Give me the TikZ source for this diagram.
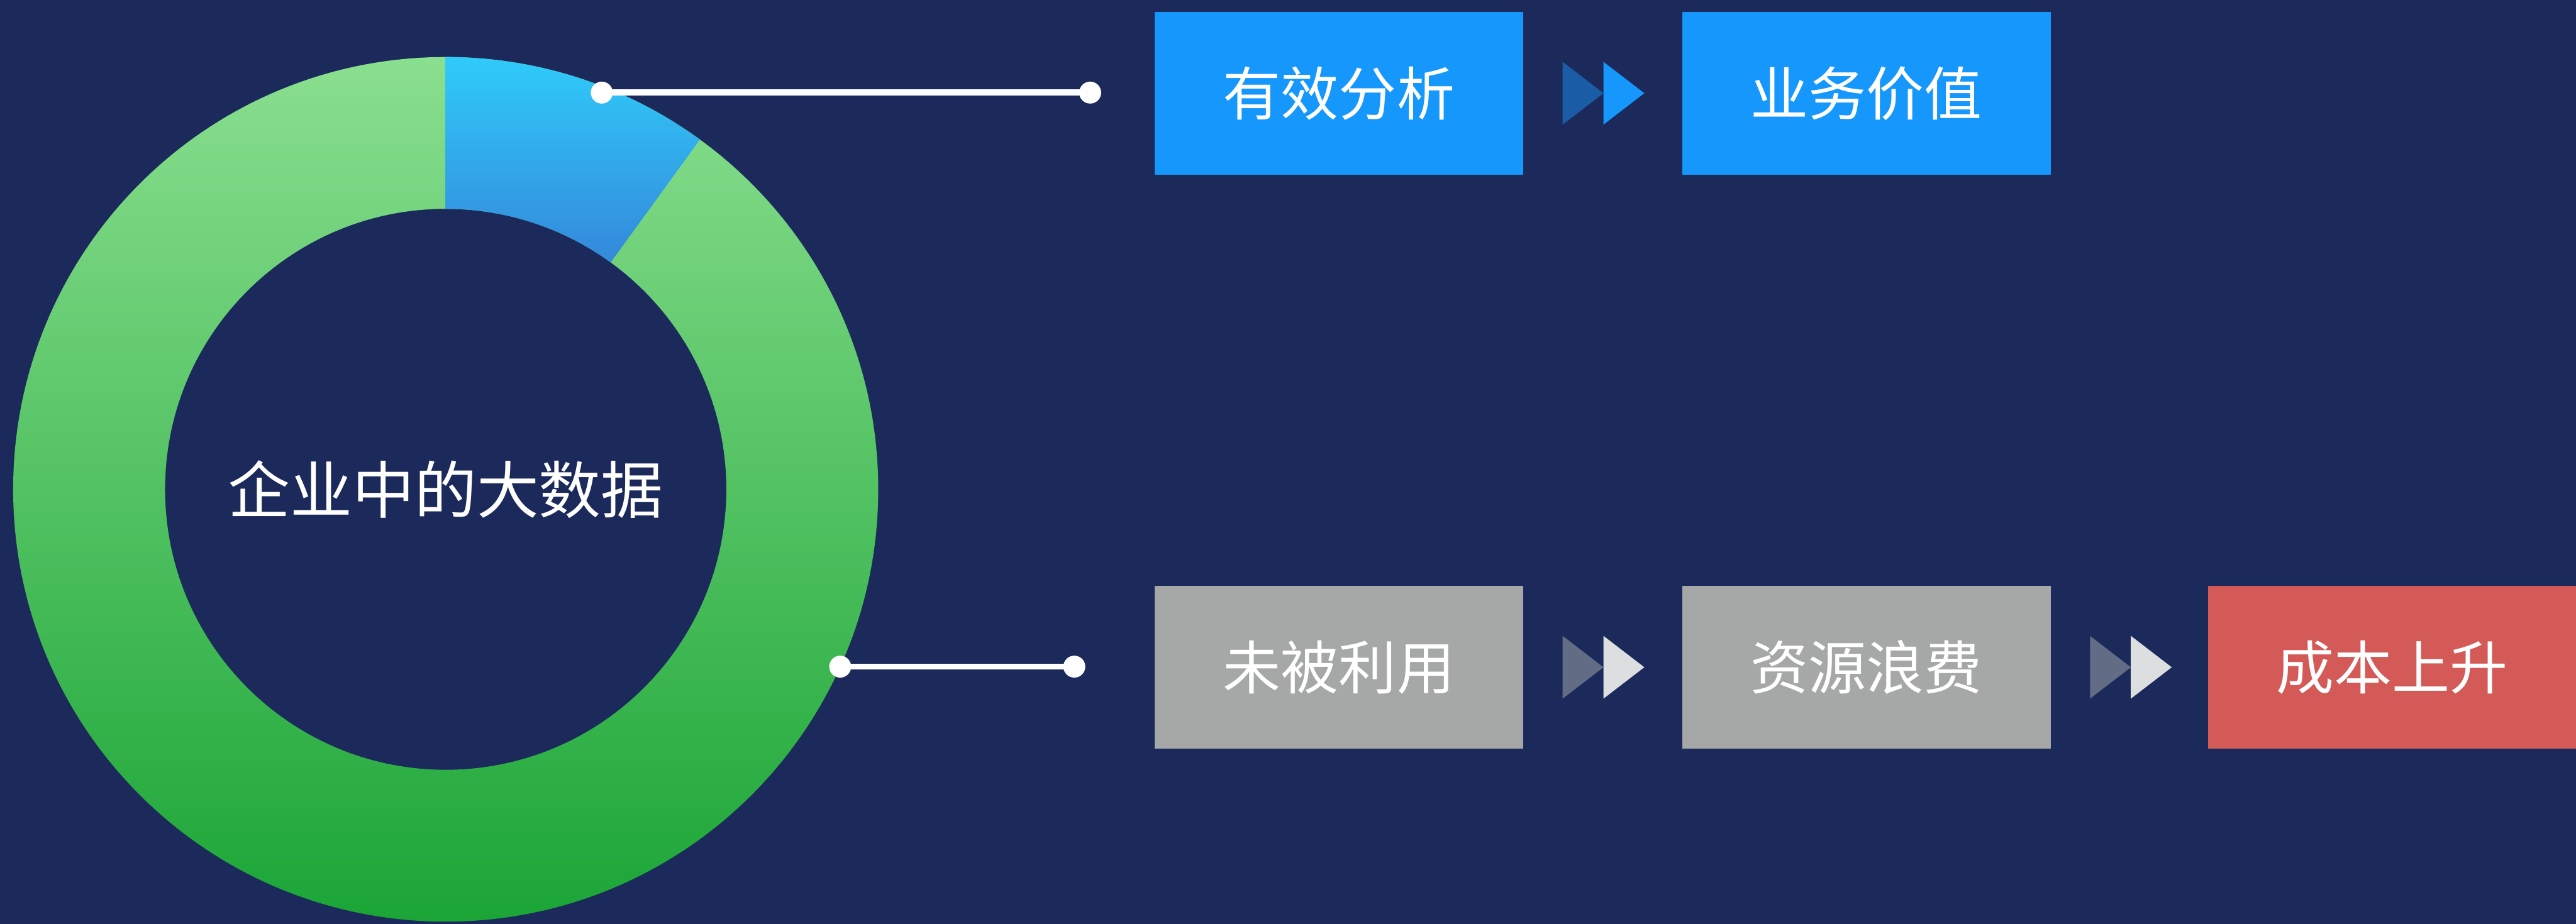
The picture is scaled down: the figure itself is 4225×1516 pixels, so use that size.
\documentclass[tikz,border=0pt]{standalone}
\usepackage{fontspec}
\newfontfamily\cjk{Noto Sans CJK SC}
\usetikzlibrary{calc}
\definecolor{bg}{HTML}{1B2A5B}
\definecolor{boxblue}{HTML}{1597FC}
\definecolor{boxgray}{HTML}{A5A8A7}
\definecolor{boxred}{HTML}{D35A57}
\definecolor{gtop}{HTML}{8ADF8F}
\definecolor{gbot}{HTML}{1BA536}
\definecolor{btop}{HTML}{2FCBFA}
\definecolor{bbot}{HTML}{3488DA}
\definecolor{arrdarkblue}{HTML}{1A5DA6}
\definecolor{arrlightblue}{HTML}{1597FC}
\definecolor{arrdarkgray}{HTML}{626C84}
\definecolor{arrlightgray}{HTML}{DCDEE0}
\newcommand\twotri[3]{%
  \fill[#2] ($(#1.east)+(64,51.5)$) -- ($(#1.east)+(131,0)$) -- ($(#1.east)+(64,-51.5)$) -- cycle;
  \fill[#3] ($(#1.east)+(131,51.5)$) -- ($(#1.east)+(198,0)$) -- ($(#1.east)+(131,-51.5)$) -- cycle;
}
\begin{document}
\begin{tikzpicture}[x=0.01cm,y=0.01cm,
  box/.style={minimum width=6.04cm, minimum height=2.67cm, inner sep=0pt, text=white,
    font=\cjk\fontsize{27}{30}\selectfont},
  dot/.style={circle, fill=white, minimum size=0.36cm, inner sep=0pt},
  link/.style={white, line width=2.85pt}
]
\fill[bg] (0,0) rectangle (4225,1516);
\useasboundingbox (0,0) rectangle (4225,1516);
\coordinate (c) at (731,713);
\shade[top color=gtop, bottom color=gbot, even odd rule] (c) circle (7.09cm) (c) circle (4.60cm);
\shade[top color=btop, bottom color=bbot] ([shift={(c)}]90:7.09cm) arc (90:54:7.09cm)
  -- ([shift={(c)}]54:4.60cm) arc (54:90:4.60cm) -- cycle;
\node[text=white, font=\cjk\fontsize{29}{32}\selectfont] (center) at (c) {企业中的大数据};

\node[box, fill=boxblue] (a1) at (2196,1363) {有效分析};
\node[box, fill=boxblue] (a2) at (3061,1363) {业务价值};
\node[box, fill=boxgray] (b1) at (2196,421) {未被利用};
\node[box, fill=boxgray] (b2) at (3061,421) {资源浪费};
\node[box, fill=boxred, minimum width=6.03cm] (b3) at (3923.5,421) {成本上升};

\twotri{a1}{arrdarkblue}{arrlightblue}
\twotri{b1}{arrdarkgray}{arrlightgray}
\twotri{b2}{arrdarkgray}{arrlightgray}

\node[dot] (d1) at (987,1364) {};
\node[dot] (d2) at (1788,1364) {};
\draw[link] (d1.center) -- (d2.center);
\node[dot] (d3) at (1378,422) {};
\node[dot] (d4) at (1762,422) {};
\draw[link] (d3.center) -- (d4.center);
\end{tikzpicture}
\end{document}
